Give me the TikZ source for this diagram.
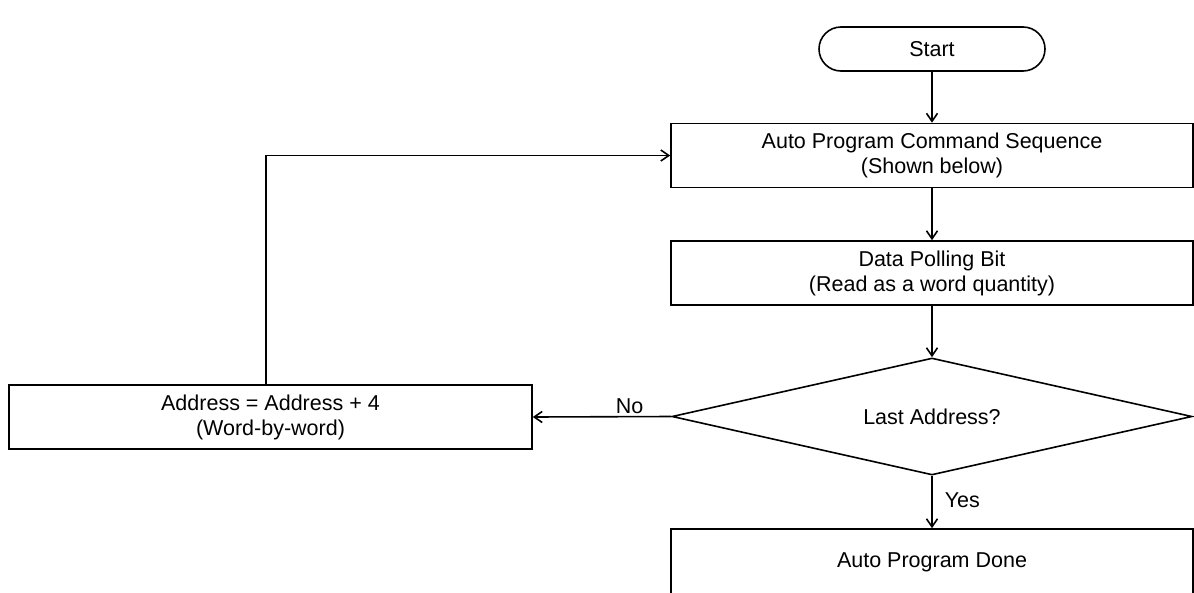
\documentclass[tikz,border=0pt]{standalone}
\usepackage{fontspec}
\setmainfont{Liberation Sans}
\usetikzlibrary{arrows.meta,shapes.geometric}
\tikzset{
  flowbox/.style={draw,rectangle,minimum width=522pt,minimum height=64pt,inner sep=0pt,align=center},
  startbox/.style={draw,rectangle,rounded corners=22pt,minimum width=226pt,minimum height=44pt,inner sep=0pt},
  decision/.style={draw,diamond,aspect=4.44,minimum width=520pt,minimum height=117pt,inner sep=0pt},
  lbl/.style={inner sep=2pt}
}
\begin{document}
\begin{tikzpicture}[x=1pt,y=-1pt,line width=1.6pt,>={Straight Barb[length=8pt,width=11pt]},
  every node/.style={font=\fontsize{21.5}{25}\selectfont}]
	\useasboundingbox (0,0) rectangle (1194,592);
	% Knoten
	\node[startbox] (start) at (932,49) {Start};
	\node[flowbox] (cmd) at (932,155.5) {Auto Program Command Sequence\\(Shown below)};
	\node[flowbox] (poll) at (932,273) {Data Polling Bit\\(Read as a word quantity)};
	\node[decision] (last) at (932,416.5) {Last Address?};
	\node[flowbox,minimum width=523pt] (addr) at (270.5,417) {Address = Address + 4\\(Word-by-word)};
	\node[flowbox,minimum height=80pt,text depth=18pt] (done) at (932,569) {Auto Program Done};
	% Pfeile
	\draw[->] (start) -- (cmd);
	\draw[->] (cmd) -- (poll);
	\draw[->] (poll) -- (last);
	\draw[->] (last.west) -- node[above,pos=0.3,lbl]{No} (addr.east);
	\draw[->] (last.south) -- node[right,pos=0.47,lbl,xshift=10pt]{Yes} (done.north);
	\draw[->] ([xshift=-4.5pt]addr.north) |- (cmd.west);
\end{tikzpicture}
\end{document}
